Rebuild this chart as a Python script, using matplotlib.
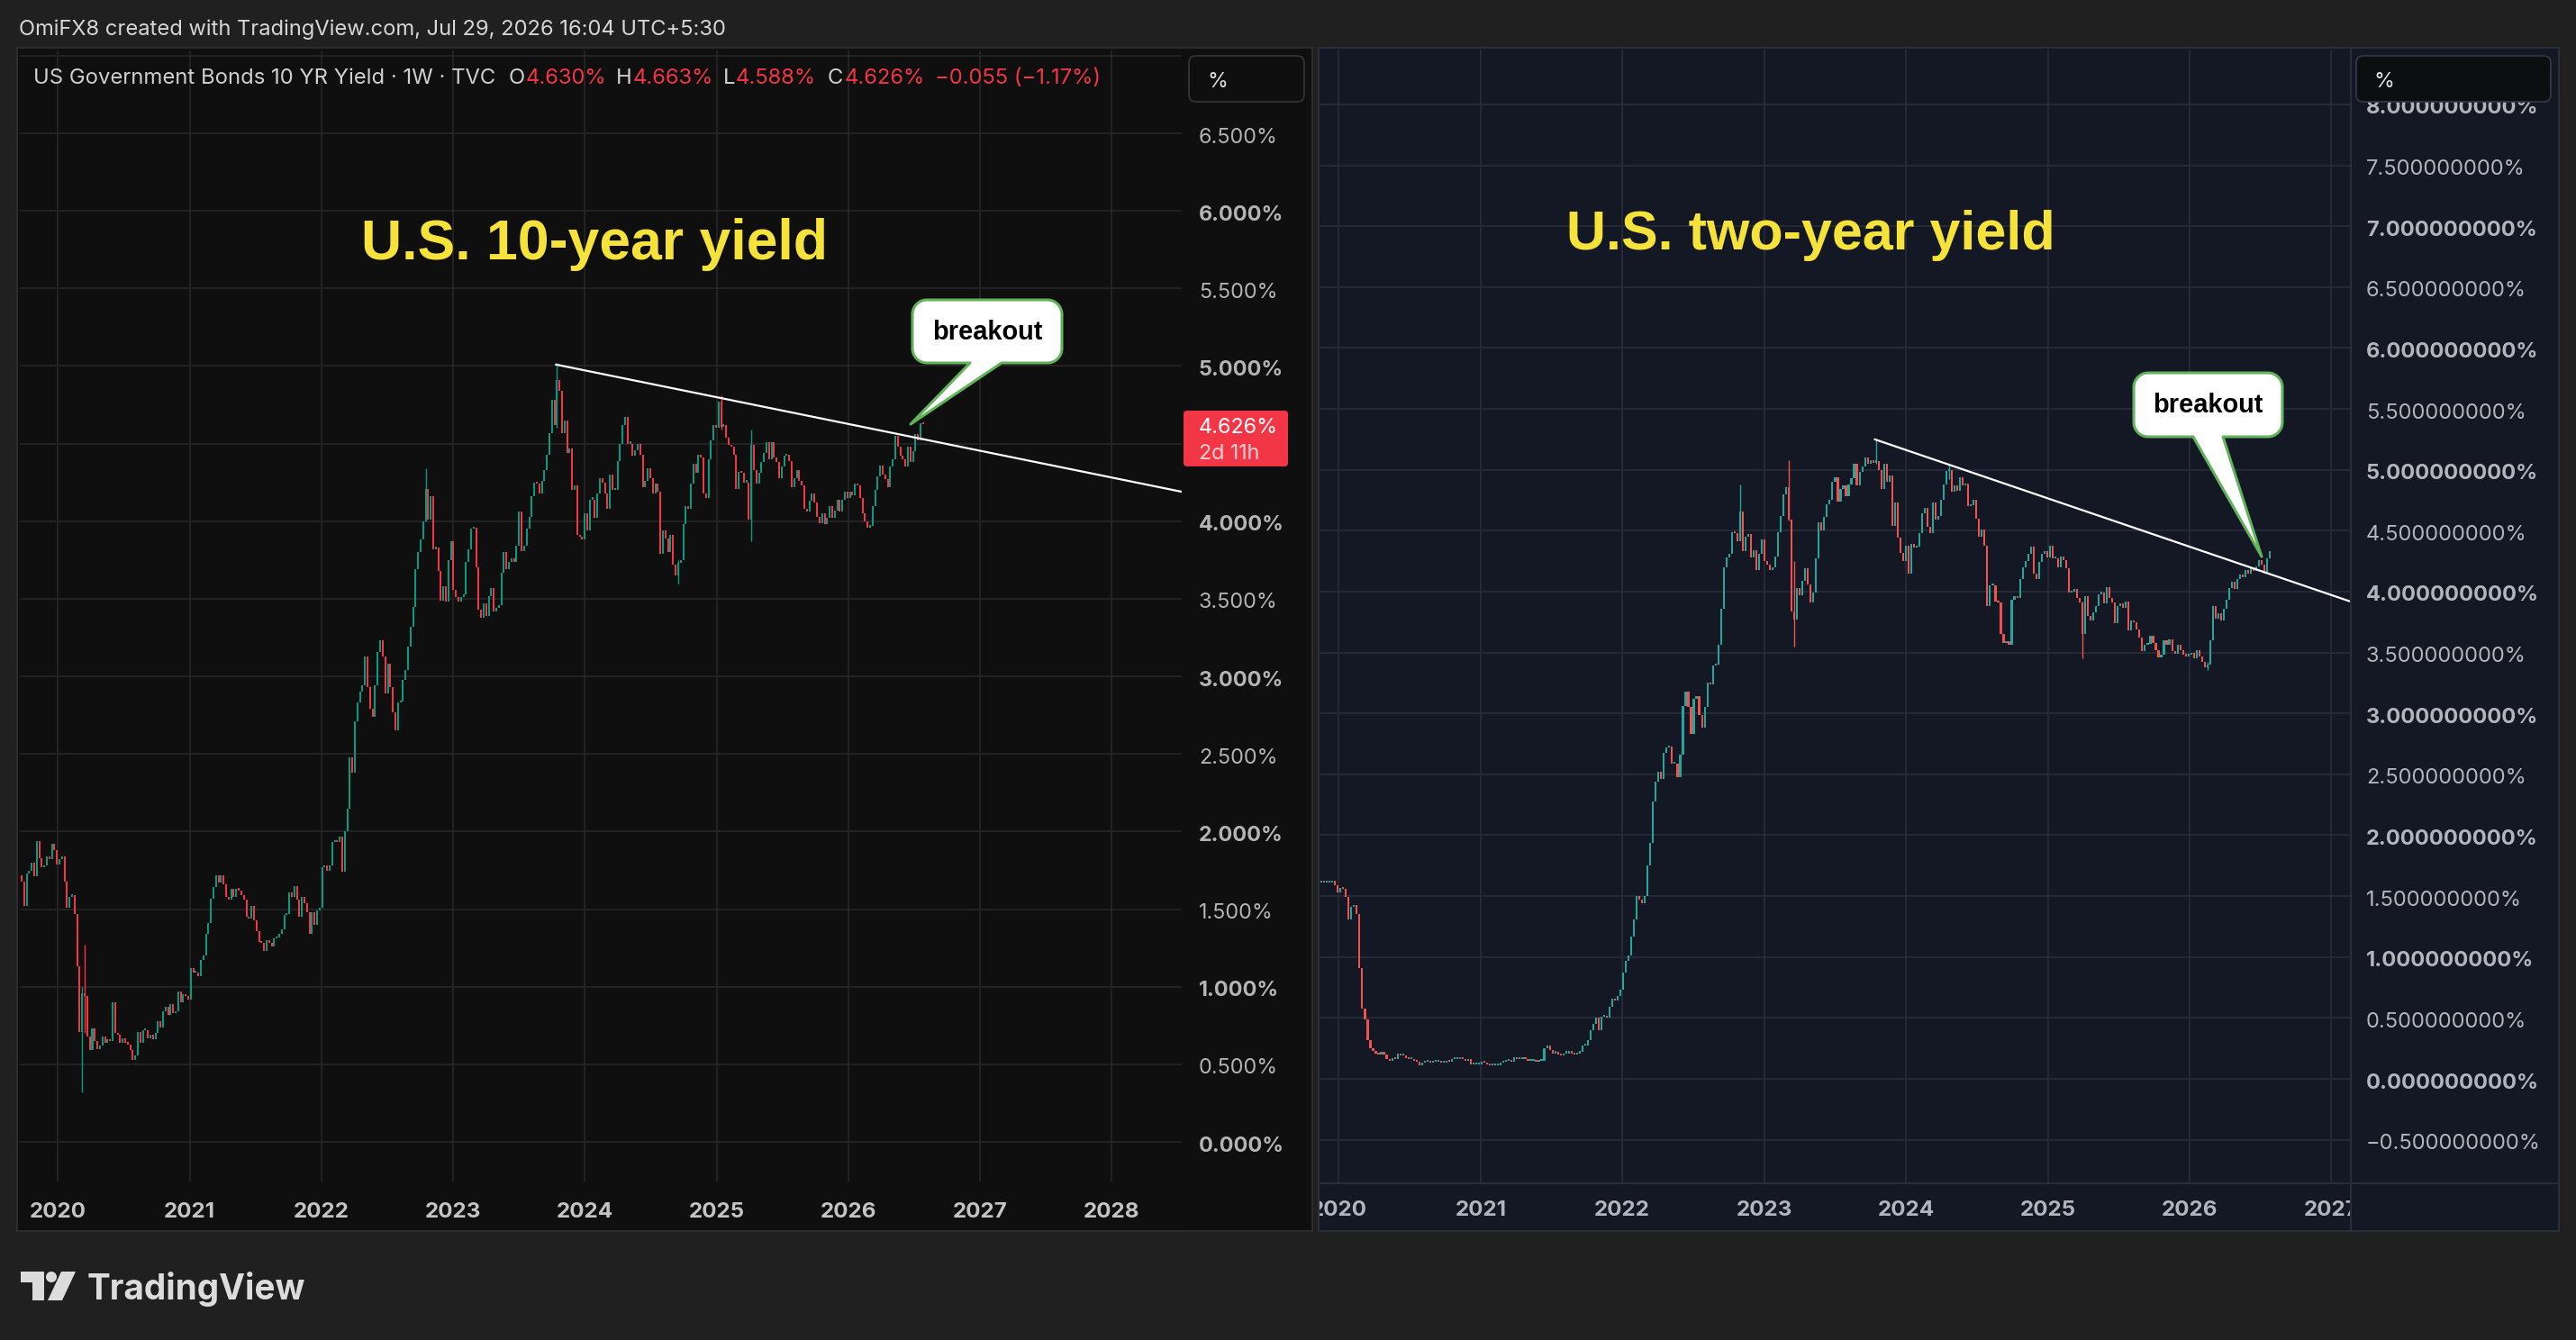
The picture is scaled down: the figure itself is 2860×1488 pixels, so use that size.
import numpy as np
import matplotlib
matplotlib.use("Agg")
import matplotlib.pyplot as plt
import matplotlib.dates as mdates
from matplotlib.patches import Rectangle, FancyBboxPatch, Polygon, Circle
from matplotlib.transforms import blended_transform_factory, ScaledTranslation

plt.rcParams['font.family'] = ['Inter', 'DejaVu Sans']

# ------------------------------------------------------------------ data
# US 10-year yield, weekly closes (%). First entry = close of the week before the first bar.
ten_2019 = [1.55, 1.90, 1.72, 1.68, 1.52, 1.73, 1.75, 1.80, 1.71, 1.94, 1.83, 1.77, 1.78,
            1.84, 1.82, 1.92, 1.88]
ten_2020 = [1.79, 1.82, 1.84, 1.68, 1.51, 1.58, 1.59, 1.47, 1.13, 0.71, 0.96, 0.94, 0.68,
            0.59, 0.73, 0.65, 0.60, 0.62, 0.68, 0.64, 0.66, 0.65, 0.90, 0.70, 0.69, 0.64,
            0.67, 0.64, 0.63, 0.59, 0.53, 0.56, 0.71, 0.64, 0.72, 0.72, 0.67, 0.69, 0.66,
            0.70, 0.78, 0.74, 0.84, 0.87, 0.82, 0.89, 0.83, 0.84, 0.97, 0.90, 0.95, 0.94]
ten_2021 = [0.92, 1.12, 1.09, 1.09, 1.07, 1.17, 1.20, 1.34, 1.41, 1.57, 1.64, 1.72, 1.67,
            1.72, 1.66, 1.58, 1.56, 1.63, 1.58, 1.63, 1.62, 1.59, 1.56, 1.45, 1.44, 1.52,
            1.43, 1.36, 1.29, 1.28, 1.23, 1.30, 1.28, 1.26, 1.31, 1.32, 1.34, 1.37, 1.46,
            1.47, 1.61, 1.58, 1.65, 1.56, 1.45, 1.58, 1.54, 1.48, 1.34, 1.48, 1.40, 1.49, 1.51]
ten_2022 = [1.77, 1.78, 1.75, 1.78, 1.93, 1.94, 1.93, 1.97, 1.74, 2.00, 2.15, 2.48, 2.38,
            2.71, 2.83, 2.90, 2.94, 3.13, 2.93, 2.79, 2.74, 2.94, 3.16, 3.23, 3.13, 2.89,
            3.08, 2.93, 2.77, 2.65, 2.83, 2.84, 2.98, 3.04, 3.19, 3.32, 3.45, 3.69, 3.80,
            3.88, 4.00, 4.21, 4.01, 4.16, 3.82, 3.83, 3.68, 3.49, 3.58, 3.48, 3.75, 3.87]
ten_2023 = [3.56, 3.51, 3.48, 3.51, 3.53, 3.74, 3.82, 3.95, 3.96, 3.70, 3.43, 3.38, 3.47,
            3.39, 3.52, 3.57, 3.42, 3.44, 3.46, 3.67, 3.80, 3.69, 3.74, 3.76, 3.74, 3.84,
            4.06, 3.81, 3.84, 3.95, 4.03, 4.16, 4.25, 4.24, 4.18, 4.26, 4.33, 4.43, 4.57,
            4.78, 4.62, 4.91, 4.84, 4.57, 4.65, 4.44, 4.47, 4.20, 4.23, 3.91, 3.90, 3.88]
ten_2024 = [4.05, 3.94, 4.14, 4.14, 4.02, 4.18, 4.28, 4.25, 4.18, 4.08, 4.30, 4.20, 4.20,
            4.39, 4.50, 4.62, 4.67, 4.50, 4.50, 4.42, 4.46, 4.50, 4.43, 4.22, 4.26, 4.34,
            4.28, 4.18, 4.24, 4.19, 3.79, 3.94, 3.89, 3.80, 3.91, 3.72, 3.65, 3.73, 3.75,
            3.98, 4.10, 4.08, 4.24, 4.37, 4.31, 4.43, 4.41, 4.18, 4.15, 4.40, 4.52, 4.62]
ten_2025_26 = [4.60, 4.77, 4.61, 4.62, 4.54, 4.49, 4.48, 4.43, 4.21, 4.32, 4.31, 4.25, 4.25,
               4.01, 4.49, 4.33, 4.24, 4.31, 4.38, 4.44, 4.51, 4.40, 4.51, 4.41,
               4.38, 4.28, 4.35, 4.42, 4.43, 4.39, 4.22, 4.28, 4.33, 4.26,
               4.23, 4.08, 4.06, 4.13, 4.18, 4.12, 4.03, 3.99, 4.05, 3.98,
               4.02, 4.10, 4.02, 4.07, 4.14, 4.06, 4.14, 4.19, 4.15, 4.19,
               4.17, 4.24, 4.23, 4.15, 4.05, 4.00, 3.96, 3.97, 4.10, 4.20,
               4.29, 4.36, 4.30, 4.27, 4.22, 4.35, 4.40, 4.55, 4.48, 4.42,
               4.40, 4.35, 4.48, 4.38, 4.45, 4.56, 4.52, 4.630, 4.626]
# notable weekly wicks (week start, low, high)
ten_wick_weeks = ["2020-03-09", "2020-03-16", "2022-10-17", "2023-10-16", "2025-01-13",
                  "2025-04-07", "2024-09-16"]
ten_wick_lo = [0.32, 0.70, 4.00, 4.60, 4.59, 3.87, 3.60]
ten_wick_hi = [1.00, 1.27, 4.34, 5.02, 4.81, 4.59, 3.75]

# US 2-year yield, weekly closes (%). First entry = close of the week before the first bar.
two_2019 = [1.56, 1.67, 1.61, 1.63, 1.61, 1.61, 1.61, 1.63, 1.59]
two_2020 = [1.53, 1.57, 1.56, 1.49, 1.31, 1.41, 1.43, 1.35, 0.91, 0.58, 0.49, 0.32, 0.25,
            0.23, 0.21, 0.20, 0.22, 0.20, 0.16, 0.15, 0.17, 0.16, 0.21, 0.19, 0.19, 0.17,
            0.16, 0.16, 0.15, 0.14, 0.11, 0.13, 0.14, 0.15, 0.13, 0.14, 0.14, 0.14, 0.13,
            0.13, 0.15, 0.14, 0.16, 0.16, 0.16, 0.18, 0.16, 0.15, 0.16, 0.12, 0.12, 0.12]
two_2021 = [0.12, 0.14, 0.13, 0.12, 0.11, 0.11, 0.11, 0.11, 0.13, 0.14, 0.15, 0.15, 0.14,
            0.18, 0.16, 0.16, 0.17, 0.16, 0.15, 0.15, 0.15, 0.14, 0.15, 0.15, 0.25, 0.27,
            0.24, 0.21, 0.22, 0.20, 0.19, 0.21, 0.21, 0.22, 0.21, 0.20, 0.21, 0.22, 0.27,
            0.27, 0.32, 0.40, 0.45, 0.50, 0.40, 0.51, 0.51, 0.50, 0.59, 0.66, 0.64, 0.68, 0.73]
two_2022 = [0.87, 0.97, 1.01, 1.17, 1.31, 1.50, 1.47, 1.44, 1.50, 1.75, 1.94, 2.28, 2.44,
            2.52, 2.46, 2.68, 2.72, 2.73, 2.59, 2.59, 2.48, 2.66, 3.06, 3.18, 3.05, 2.83,
            3.12, 3.14, 2.99, 2.88, 3.05, 3.25, 3.24, 3.39, 3.40, 3.56, 3.86, 4.20, 4.28,
            4.31, 4.49, 4.48, 4.41, 4.66, 4.33, 4.45, 4.47, 4.28, 4.34, 4.18, 4.31, 4.43]
two_2023 = [4.25, 4.22, 4.18, 4.20, 4.29, 4.49, 4.62, 4.80, 4.86, 4.59, 3.84, 3.77, 4.03,
            3.97, 4.09, 4.19, 4.06, 3.91, 3.99, 4.27, 4.57, 4.50, 4.61, 4.72, 4.75, 4.90,
            4.94, 4.74, 4.84, 4.87, 4.78, 4.88, 4.93, 5.05, 4.87, 4.98, 5.03, 5.10, 5.05,
            5.08, 5.06, 5.07, 5.00, 4.84, 5.05, 4.90, 4.95, 4.54, 4.73, 4.44, 4.32, 4.25]
two_2024 = [4.38, 4.15, 4.39, 4.36, 4.37, 4.48, 4.64, 4.69, 4.53, 4.48, 4.73, 4.59, 4.62,
            4.75, 4.88, 4.99, 5.00, 4.82, 4.87, 4.83, 4.94, 4.87, 4.89, 4.70, 4.71, 4.75,
            4.60, 4.45, 4.51, 4.38, 3.88, 4.05, 4.05, 3.92, 3.91, 3.65, 3.58, 3.59, 3.56,
            3.93, 3.96, 3.95, 4.10, 4.20, 4.25, 4.31, 4.37, 4.15, 4.10, 4.24, 4.31, 4.33]
two_2025_26 = [4.28, 4.38, 4.27, 4.27, 4.20, 4.29, 4.26, 4.19, 3.99, 4.00,
               4.02, 3.95, 3.91, 3.65, 3.96, 3.80, 3.76, 3.83, 3.88, 3.98,
               3.99, 3.90, 4.04, 3.95, 3.91, 3.74, 3.88, 3.90, 3.87, 3.92,
               3.68, 3.76, 3.75, 3.69, 3.62, 3.51, 3.56, 3.57, 3.64, 3.58,
               3.52, 3.46, 3.48, 3.60, 3.56, 3.61, 3.51, 3.49, 3.56, 3.52,
               3.48, 3.47, 3.48, 3.50, 3.45, 3.52, 3.47, 3.42, 3.38, 3.40,
               3.60, 3.88, 3.78, 3.82, 3.76, 3.86, 3.93, 4.03, 4.08, 4.02,
               4.10, 4.14, 4.12, 4.18, 4.15, 4.20, 4.17, 4.21, 4.26, 4.22,
               4.15, 4.27, 4.33]
two_wick_weeks = ["2022-10-31", "2023-03-06", "2023-03-20", "2023-10-16", "2025-03-31",
                  "2026-02-16", "2024-04-22"]
two_wick_lo = [4.42, 4.58, 3.55, 5.05, 3.45, 3.36, 4.92]
two_wick_hi = [4.88, 5.08, 4.25, 5.26, 3.92, 3.42, 5.04]

last_week = "2026-07-27"

ten_trend_dates = ["2023-10-13", "2028-07-13"]
ten_trend_vals = [5.01, 4.19]
two_trend_dates = ["2023-10-13", "2027-02-18"]
two_trend_vals = [5.25, 3.92]

ten_xlim = ["2019-09-18", "2028-07-13"]
two_xlim = ["2019-11-13", "2027-02-18"]
ten_ylim = [-0.255, 7.034]
two_ylim = [-0.85, 8.45]

ten_grid = [0.0, 0.5, 1.0, 1.5, 2.0, 2.5, 3.0, 3.5, 4.0, 4.5, 5.0, 5.5, 6.0, 6.5, 7.0]
# 4.5 % is hidden behind the last-price tag in the original
ten_labels = [0.0, 0.5, 1.0, 1.5, 2.0, 2.5, 3.0, 3.5, 4.0, 5.0, 5.5, 6.0, 6.5]
two_grid = [-0.5, 0.0, 0.5, 1.0, 1.5, 2.0, 2.5, 3.0, 3.5, 4.0, 4.5, 5.0, 5.5, 6.0, 6.5,
            7.0, 7.5, 8.0]
ten_years = [2020, 2021, 2022, 2023, 2024, 2025, 2026, 2027, 2028]
two_years = [2020, 2021, 2022, 2023, 2024, 2025, 2026, 2027]

last_price = 4.626
legend_title = "US Government Bonds 10 YR Yield \u00b7 1W \u00b7 TVC"
legend_ohlc = [("O", "4.630%"), ("H", "4.663%"), ("L", "4.588%"), ("C", "4.626%")]
legend_change = "\u22120.055 (\u22121.17%)"

# ------------------------------------------------------------------ figure
W, H = 2860, 1488
fig = plt.figure(figsize=(W / 100, H / 100), dpi=100, facecolor="#202020")
renderer = fig.canvas.get_renderer()


def px_axes(x0, y0, x1, y1, z=1):
    return fig.add_axes([x0 / W, 1 - y1 / H, (x1 - x0) / W, (y1 - y0) / H], zorder=z)


def fit(t, target):
    w = t.get_window_extent(renderer).width
    t.set_fontsize(t.get_fontsize() * target / w)
    return t


def clean(ax):
    for s in ax.spines.values():
        s.set_visible(False)
    ax.set_xticks([])
    ax.set_yticks([])


down_px = ScaledTranslation(0, -4.5 / 100, fig.dpi_scale_trans)

# background panels
bg = px_axes(0, 0, W, H, z=0)
bg.set_xlim(0, W)
bg.set_ylim(H, 0)
bg.axis("off")
bg.add_patch(Rectangle((19, 53), 1438, 1314, facecolor="#0f0f0f", edgecolor="#2c2c2c", lw=1.5))
bg.add_patch(Rectangle((1464, 53), 1377, 1314, facecolor="#141824", edgecolor="#2a2e39", lw=1.5))


def weekly_dates(n):
    end = np.datetime64(last_week)
    return mdates.date2num(end - np.arange(n - 1, -1, -1) * np.timedelta64(7, "D"))


def dn(s):
    return mdates.date2num(np.datetime64(s))


def draw_chart(ax, closes, up, down, min_h, wk_weeks, wk_lo, wk_hi):
    closes = np.array(closes, dtype=float)
    x = weekly_dates(len(closes))[1:]
    o = closes[:-1]
    c = closes[1:]
    lo = np.minimum(o, c)
    h = np.maximum(np.abs(c - o), min_h)
    cols = [up if cc >= oo else down for oo, cc in zip(o, c)]
    ax.bar(x, h, bottom=lo, width=5, color=cols, linewidth=0, zorder=3)
    for d, l, hh in zip(wk_weeks, wk_lo, wk_hi):
        i = int(np.argmin(np.abs(x - dn(d))))
        ax.vlines(x[i], l, hh, colors=cols[i], lw=1.0, zorder=3)


# ---------------- left chart (10Y)
axL = px_axes(22, 56, 1312, 1312)
axL.set_facecolor("#0f0f0f")
clean(axL)
axL.set_xlim(dn(ten_xlim[0]), dn(ten_xlim[1]))
axL.set_ylim(*ten_ylim)
for v in ten_grid:
    axL.axhline(v, color="#252525", lw=1.3, zorder=1)
for yr in ten_years:
    axL.axvline(dn(f"{yr}-01-01"), color="#252525", lw=1.3, zorder=1)
ten_all = ten_2019 + ten_2020 + ten_2021 + ten_2022 + ten_2023 + ten_2024 + ten_2025_26
draw_chart(axL, ten_all, "#089981", "#f23645", 0.014, ten_wick_weeks, ten_wick_lo, ten_wick_hi)
axL.plot([dn(d) for d in ten_trend_dates], ten_trend_vals, color="white", lw=1.6, zorder=4,
         solid_capstyle="round")

axLt = px_axes(22, 1312, 1312, 1366)
axLt.set_facecolor("#0f0f0f")
clean(axLt)
axLt.set_xlim(axL.get_xlim())
axLt.set_ylim(0, 1)
probe = axLt.text(0, 0.5, "2020", fontweight="bold", fontsize=17)
fit(probe, 63)
year_fs = probe.get_fontsize()
probe.remove()
for yr in ten_years:
    axLt.text(dn(f"{yr}-01-01"), 0.45, str(yr), ha="center", va="center", fontsize=year_fs,
              fontweight="bold", color="#c4c4c4", clip_on=True,
              transform=axLt.transData + down_px)

# left price labels
trL = blended_transform_factory(axL.transAxes, axL.transData)
probe = axL.text(1.0147, 6.5, "6.500%", transform=trL, fontsize=16)
fit(probe, 88)
pfs = probe.get_fontsize()
probe.remove()
for v in ten_labels:
    whole = abs(v - round(v)) < 1e-9
    axL.text(1.0147, v, f"{v:.3f}%", transform=trL + down_px, ha="left", va="center",
             fontsize=pfs, fontweight="bold" if whole else "normal", color="#b4b4b4",
             clip_on=False)

# ---------------- right chart (2Y)
axR = px_axes(1465, 55, 2609, 1313)
axR.set_facecolor("#141824")
clean(axR)
axR.set_xlim(dn(two_xlim[0]), dn(two_xlim[1]))
axR.set_ylim(*two_ylim)
for v in two_grid:
    axR.axhline(v, color="#272b37", lw=1.3, zorder=1)
for yr in two_years:
    axR.axvline(dn(f"{yr}-01-01"), color="#272b37", lw=1.3, zorder=1)
two_all = two_2019 + two_2020 + two_2021 + two_2022 + two_2023 + two_2024 + two_2025_26
draw_chart(axR, two_all, "#26a69a", "#ef5350", 0.016, two_wick_weeks, two_wick_lo, two_wick_hi)
axR.plot([dn(d) for d in two_trend_dates], two_trend_vals, color="white", lw=1.6, zorder=4,
         solid_capstyle="round")

axRt = px_axes(1465, 1314, 2609, 1366)
axRt.set_facecolor("#141824")
clean(axRt)
axRt.set_xlim(axR.get_xlim())
axRt.set_ylim(0, 1)
for yr in two_years:
    axRt.text(dn(f"{yr}-01-01"), 0.5, str(yr), ha="center", va="center", fontsize=year_fs,
              fontweight="bold", color="#b2b5be", clip_on=True,
              transform=axRt.transData + down_px)

trR = blended_transform_factory(axR.transAxes, axR.transData)
xr = (2627 - 1465) / (2609 - 1465)
probe = axR.text(xr, 7.5, "7.500000000%", transform=trR, fontsize=16)
fit(probe, 178)
rfs = probe.get_fontsize()
probe.remove()
for v in two_grid:
    whole = abs(v - round(v)) < 1e-9
    s = f"{v:.9f}%".replace("-", "\u2212")
    axR.text(xr, v, s, transform=trR + down_px, ha="left", va="center", fontsize=rfs,
             fontweight="bold" if whole else "normal", color="#b2b5be", clip_on=False)

# ---------------- foreground overlay
fg = px_axes(0, 0, W, H, z=5)
fg.set_xlim(0, W)
fg.set_ylim(H, 0)
fg.axis("off")
fg.patch.set_alpha(0)

# separators of right chart
fg.plot([1465, 2840], [1313.5, 1313.5], color="#2a2e39", lw=1.5)
fg.plot([2609.5, 2609.5], [54, 1366], color="#2a2e39", lw=1.5)

# header
t = fg.text(21, 39, "OmiFX8 created with TradingView.com, Jul 29, 2026 16:04 UTC+5:30",
            color="#d6d6d6", fontsize=14, va="baseline")
fit(t, 785)

# legend
t = fg.text(37, 93, legend_title, color="#cfcfcf", fontsize=15, va="baseline")
fit(t, 512)
lfs = t.get_fontsize()
xs_letter = [565, 684, 803, 919]
xs_val = [584, 703, 817, 938]
for (lab, val), xl, xv in zip(legend_ohlc, xs_letter, xs_val):
    fg.text(xl, 93, lab, color="#cfcfcf", fontsize=lfs, va="baseline")
    fg.text(xv, 93, val, color="#f23645", fontsize=lfs, va="baseline")
fg.text(1038, 93, legend_change, color="#f23645", fontsize=lfs, va="baseline")

# % boxes
fg.add_patch(FancyBboxPatch((1320, 62), 128, 51, boxstyle="round,pad=0,rounding_size=8",
                            facecolor="#0f0f0f", edgecolor="#363636", lw=1.2))
fg.text(1340, 91, "%", color="#e0e0e0", fontsize=pfs, va="center", ha="left")
fg.add_patch(FancyBboxPatch((2616, 62), 216, 51, boxstyle="round,pad=0,rounding_size=8",
                            facecolor="#0d0e10", edgecolor="#363a45", lw=1.2))
fg.text(2635, 91, "%", color="#e0e0e0", fontsize=pfs, va="center", ha="left")

# last-price tag
yp = H - axL.transData.transform((axL.get_xlim()[0], last_price))[1]
fg.add_patch(FancyBboxPatch((1314, yp - 15), 116, 62, boxstyle="round,pad=0,rounding_size=4",
                            facecolor="#f23645", edgecolor="none"))
fg.text(1331, yp + 4, f"{last_price:.3f}%", color="white", fontsize=pfs, va="center")
fg.text(1331, yp + 33, "2d 11h", color="#ffd0d4", fontsize=pfs, va="center")

# titles
t = fg.text(660, 288, "U.S. 10-year yield", color="#f5e23b", fontsize=44,
            fontweight="bold", family="Liberation Sans", ha="center", va="baseline")
fit(t, 518)
t = fg.text(2010, 277, "U.S. two-year yield", color="#f5e23b", fontsize=44,
            fontweight="bold", family="Liberation Sans", ha="center", va="baseline")
fit(t, 543)


# callouts
def callout(x0, y0, x1, y1, r, bx0, bx1, tx, ty):
    pts = []

    def arc(cx, cy, a0, a1):
        for a in np.linspace(a0, a1, 10):
            pts.append((cx + r * np.cos(a), cy + r * np.sin(a)))

    arc(x1 - r, y0 + r, -np.pi / 2, 0)
    arc(x1 - r, y1 - r, 0, np.pi / 2)
    pts.extend([(bx1, y1), (tx, ty), (bx0, y1)])
    arc(x0 + r, y1 - r, np.pi / 2, np.pi)
    arc(x0 + r, y0 + r, np.pi, 1.5 * np.pi)
    fg.add_patch(Polygon(pts, closed=True, facecolor="white", edgecolor="#62b35c", lw=2.2,
                         joinstyle="round"))
    t = fg.text((x0 + x1) / 2, (y0 + y1) / 2 + 9, "breakout", color="black", fontsize=21,
                fontweight="bold", family="Liberation Sans", ha="center", va="baseline")
    fit(t, 122)


callout(1013, 333, 1179, 403, 16, 1077, 1112, 1011, 471)
callout(2369, 414, 2534, 485, 16, 2435, 2468, 2511, 618)

# TradingView logo
fg.add_patch(Polygon([(23, 1412), (49, 1412), (49, 1444), (36, 1444), (36, 1424), (23, 1424)],
                     closed=True, facecolor="#dcdcdc", edgecolor="none"))
fg.add_patch(Circle((57, 1418), 6, facecolor="#dcdcdc", edgecolor="none"))
fg.add_patch(Polygon([(68, 1412), (84, 1412), (69, 1444), (53, 1444)], closed=True,
                     facecolor="#dcdcdc", edgecolor="none"))
t = fg.text(97, 1443, "TradingView", color="#dcdcdc", fontsize=30, fontweight="bold",
            va="baseline")
fit(t, 243)

fig.savefig("out.png", dpi=100, facecolor=fig.get_facecolor())
